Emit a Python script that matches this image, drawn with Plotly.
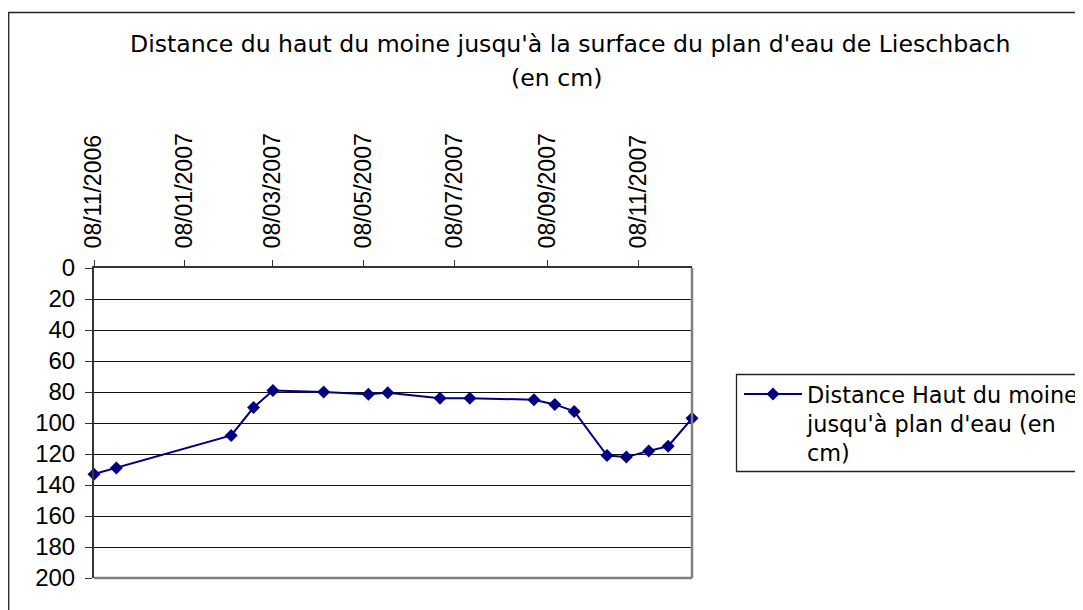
import plotly.graph_objects as go

# ---- data ----
dates = [
    "2006-11-08", "2006-11-23", "2007-02-08", "2007-02-23", "2007-03-08",
    "2007-04-11", "2007-05-11", "2007-05-24", "2007-06-28", "2007-07-18",
    "2007-08-30", "2007-09-13", "2007-09-26", "2007-10-18", "2007-10-31",
    "2007-11-15", "2007-11-28", "2007-12-14",
]
distance_cm = [133, 129, 108, 90, 79, 80, 81.5, 80.5, 84, 84,
               85, 88, 92.5, 121, 122, 118, 115, 97]

x_tick_vals = ["2006-11-08", "2007-01-08", "2007-03-08", "2007-05-08",
               "2007-07-08", "2007-09-08", "2007-11-08"]
x_tick_text = ["08/11/2006", "08/01/2007", "08/03/2007", "08/05/2007",
               "08/07/2007", "08/09/2007", "08/11/2007"]
y_tick_vals = [0, 20, 40, 60, 80, 100, 120, 140, 160, 180, 200]

title_line1 = "Distance du haut du moine jusqu'à la surface du plan d'eau de Lieschbach"
title_line2 = "(en cm)"
series_name = "Distance Haut du moine<br>jusqu'à plan d'eau (en<br>cm)"

# ---- layout geometry (pixels, page is offset by the 8px body margin) ----
OFF = 8
W, H = 1083, 610
L, R, T, B = 86, 399, 260, 40
PW, PH = W - L - R, H - T - B


def px(x):
    """screen x -> paper x"""
    return (x - OFF - L) / PW


def py(y):
    """screen y -> paper y"""
    return (H - B - (y - OFF)) / PH


TICK_FONT = "Liberation Sans, Arial, Helvetica, sans-serif"
TEXT_FONT = "DejaVu Sans, Verdana, sans-serif"
NAVY = "#000080"

fig = go.Figure()
fig.add_trace(go.Scatter(
    x=dates, y=distance_cm, name=series_name,
    mode="lines+markers",
    line=dict(color=NAVY, width=2),
    marker=dict(symbol="diamond", size=10, color=NAVY),
    cliponaxis=False,
))

fig.update_layout(
    width=W, height=H,
    margin=dict(l=L, r=R, t=T, b=B, autoexpand=False),
    paper_bgcolor="white", plot_bgcolor="white",
    font=dict(family=TICK_FONT, size=23, color="black"),
    showlegend=True,
    legend=dict(
        x=px(739), y=py(373), xanchor="left", yanchor="top",
        bgcolor="rgba(0,0,0,0)", borderwidth=0,
        font=dict(family=TEXT_FONT, size=22.4, color="black"),
        itemwidth=58, valign="top",
        tracegroupgap=0,
    ),
    xaxis=dict(
        type="date", side="top",
        range=["2006-11-08", "2007-12-14"],
        tickvals=x_tick_vals, ticktext=x_tick_text,
        tickangle=-90,
        tickfont=dict(family=TICK_FONT, size=23),
        ticks="outside", ticklen=6, tickwidth=1, tickcolor="#333333",
        showline=True, linecolor="#333333", linewidth=2,
        showgrid=False, zeroline=False,
        ticklabelstandoff=7,
    ),
    yaxis=dict(
        range=[200, 0],
        tickvals=y_tick_vals,
        tickfont=dict(family=TICK_FONT, size=24),
        ticks="outside", ticklen=7, tickwidth=1, tickcolor="#333333",
        showline=True, linecolor="#333333", linewidth=2,
        showgrid=True, gridcolor="#111111", gridwidth=1,
        zeroline=False,
        ticklabelstandoff=5,
    ),
    shapes=[
        # outer chart-area border
        dict(type="rect", xref="paper", yref="paper",
             x0=px(8.7), y0=py(660), x1=px(1130), y1=py(12.5),
             line=dict(color="#222222", width=1.3), layer="below"),
        # plot-area right and bottom border (grey)
        dict(type="line", xref="paper", yref="paper",
             x0=1, y0=0, x1=1, y1=1, line=dict(color="#808080", width=2.5)),
        dict(type="line", xref="paper", yref="paper",
             x0=0, y0=0, x1=1, y1=0, line=dict(color="#808080", width=2.5)),
        # legend box
        dict(type="rect", xref="paper", yref="paper",
             x0=px(736.5), y0=py(471.5), x1=px(1130), y1=py(374.5),
             line=dict(color="#222222", width=1.3)),
    ],
    annotations=[
        dict(text=title_line1, xref="paper", yref="paper",
             x=px(570), y=py(44), xanchor="center", yanchor="middle",
             showarrow=False,
             font=dict(family=TEXT_FONT, size=23.6, color="black")),
        dict(text=title_line2, xref="paper", yref="paper",
             x=px(556), y=py(78), xanchor="center", yanchor="middle",
             showarrow=False,
             font=dict(family=TEXT_FONT, size=23.6, color="black")),
    ],
)

fig.write_html("out.html")
